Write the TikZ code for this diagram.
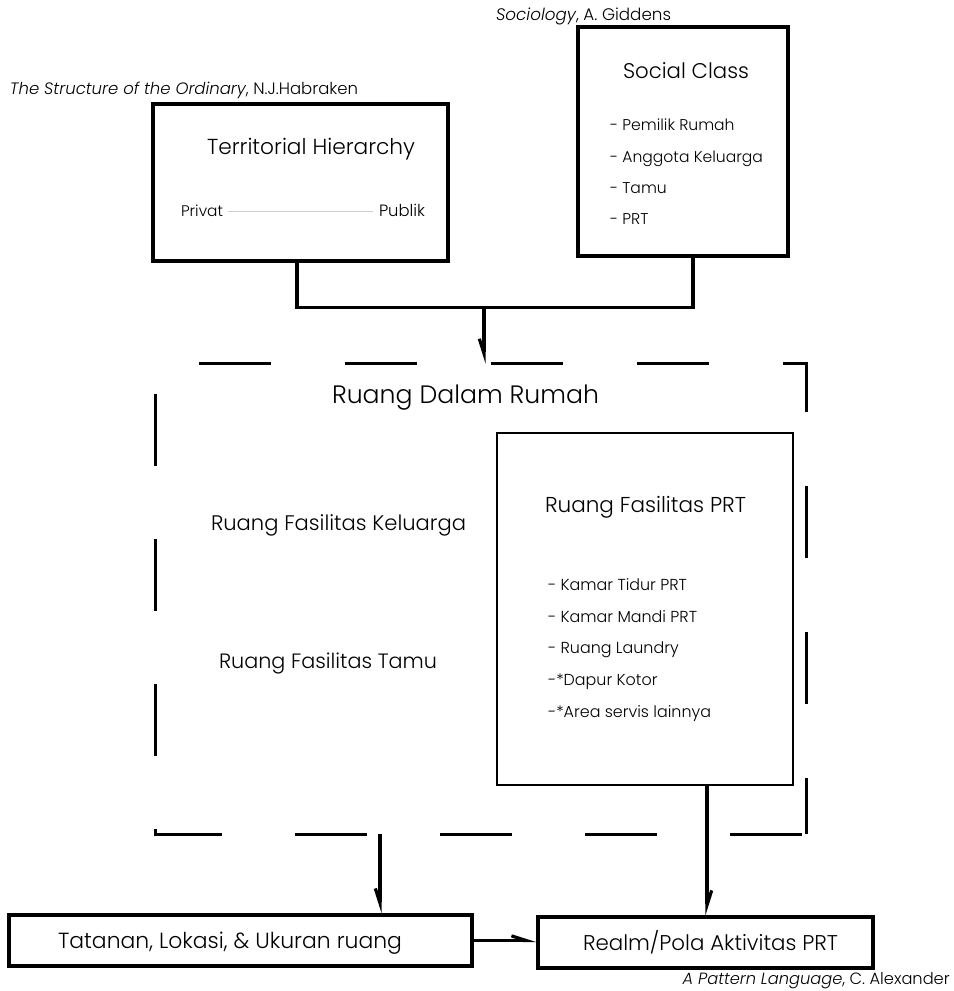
\documentclass[tikz,border=0pt]{standalone}
\usepackage{fontspec}
\usepackage{calc}
\setmainfont{Poppins}[UprightFont={* Light},ItalicFont={* Light Italic}]
\usetikzlibrary{arrows.meta,fit,calc}
\newlength\pxu
\setlength\pxu{0.75pt}
% resize text to a width given in reference pixels
\newcommand\tw[2]{\resizebox{#1\pxu}{!}{#2}}
% list item: scaled as the widest item (#2) of its list, which is #1 pixels wide
\newcommand\itm[3]{\resizebox{#1\pxu}{!}{\makebox[\widthof{#2}][l]{#3}}}
\begin{document}
\begin{tikzpicture}[x=0.75pt,y=-0.75pt,
  box/.style={draw,line width=2.4pt,inner sep=0pt},
  lbl/.style={anchor=base west,inner sep=0pt,outer sep=0pt},
  link/.style={line width=2.4pt},
  arrL/.style={link,-{Straight Barb[left,length=11pt,width=7pt]}},
  arrR/.style={link,-{Straight Barb[right,length=11pt,width=7pt]}},
  dashA/.style={line width=2.3pt,dash pattern=on 54pt off 55.5pt,dash phase=77.25pt},
  dashB/.style={line width=2.3pt,dash pattern=on 54pt off 54.75pt,dash phase=86.25pt},
  grayrule/.style={draw=black!20,line width=0.8pt}]
\useasboundingbox (0,0) rectangle (953,991);

% --- Territorial Hierarchy
\node[lbl] (capH) at (10,95) {\tw{348}{\textit{The Structure of the Ordinary}, N.J.Habraken}};
\node[box,line width=2.8pt,fit={(153,104) (448,261)}] (terr) {};
\node[lbl] (terrT) at (207,155) {\tw{208}{Territorial Hierarchy}};
\node[lbl] (priv) at (181,217) {\tw{42}{Privat}};
\node[lbl] (publ) at (379,217) {\tw{46}{Publik}};
\draw[grayrule] ($(priv.east)+(5,0)$) -- ($(publ.west |- priv.east)+(-6,0)$);

% --- Social Class
\node[lbl] (capS) at (496,21) {\tw{175}{\textit{Sociology}, A. Giddens}};
\node[box,line width=2.6pt,fit={(578,27) (788,256)}] (social) {};
\node[lbl] (socT) at (623,79) {\tw{126}{Social Class}};
\node[lbl] (s1) at (610,131) {\itm{153}{- Anggota Keluarga}{- Pemilik Rumah}};
\node[lbl] (s2) at (610,163) {\itm{153}{- Anggota Keluarga}{- Anggota Keluarga}};
\node[lbl] (s3) at (610,194) {\itm{153}{- Anggota Keluarga}{- Tamu}};
\node[lbl] (s4) at (610,224) {\itm{153}{- Anggota Keluarga}{- PRT}};

% --- Ruang Dalam Rumah (dashed container)
\node[inner sep=0pt,fit={(156,364) (806,834)}] (inside) {};
\draw[dashA] (inside.north west) -- (inside.north east) -- (inside.south east);
\draw[dashB] (inside.north west) -- (inside.south west) -- (inside.south east);
\node[lbl] (insT) at (332,403) {\tw{267}{Ruang Dalam Rumah}};
\node[lbl] (kel) at (211,530) {\tw{255}{Ruang Fasilitas Keluarga}};
\node[lbl] (tamu) at (219,668) {\tw{218}{Ruang Fasilitas Tamu}};

% --- Ruang Fasilitas PRT
\node[box,line width=2.1pt,fit={(497,433) (793,785)}] (prt) {};
\node[lbl] (prtT) at (545,512) {\tw{201}{Ruang Fasilitas PRT}};
\node[lbl] (p1) at (548,590) {\itm{163}{-*Area servis lainnya}{- Kamar Tidur PRT}};
\node[lbl] (p2) at (548,622) {\itm{163}{-*Area servis lainnya}{- Kamar Mandi PRT}};
\node[lbl] (p3) at (548,653) {\itm{163}{-*Area servis lainnya}{- Ruang Laundry}};
\node[lbl] (p4) at (548,685) {\itm{163}{-*Area servis lainnya}{-*Dapur Kotor}};
\node[lbl] (p5) at (548,717) {\itm{163}{-*Area servis lainnya}{-*Area servis lainnya}};

% --- bottom boxes
\node[box,fit={(9,915) (472,966)}] (tat) {};
\node[lbl] (tatT) at (58,948) {\tw{344}{Tatanan, Lokasi, \& Ukuran ruang}};
\node[box,fit={(538,917) (873,968)}] (realm) {};
\node[lbl] (realmT) at (583,950) {\tw{255}{Realm/Pola Aktivitas PRT}};
\node[anchor=base east,inner sep=0pt] (capA) at (950,984) {\tw{267}{\textit{A Pattern Language}, C. Alexander}};

% --- connectors
\coordinate (jn) at (484,306);
\draw[link] ($(terr.south)+(-3.5,0)$) -- ++(0,45) -| ($(social.south)+(10,0)$);
\draw[arrR] (jn) -- (jn |- inside.north);
\coordinate (d1) at ($(inside.south)+(-101,0)$);
\draw[arrR] (d1) -- (d1 |- tat.north);
\coordinate (d2) at ($(prt.south)+(62,0)$);
\draw[arrL] (d2) -- (d2 |- realm.north);
\draw[arrL] (tat.east) -- (tat.east -| realm.west);
\end{tikzpicture}
\end{document}
